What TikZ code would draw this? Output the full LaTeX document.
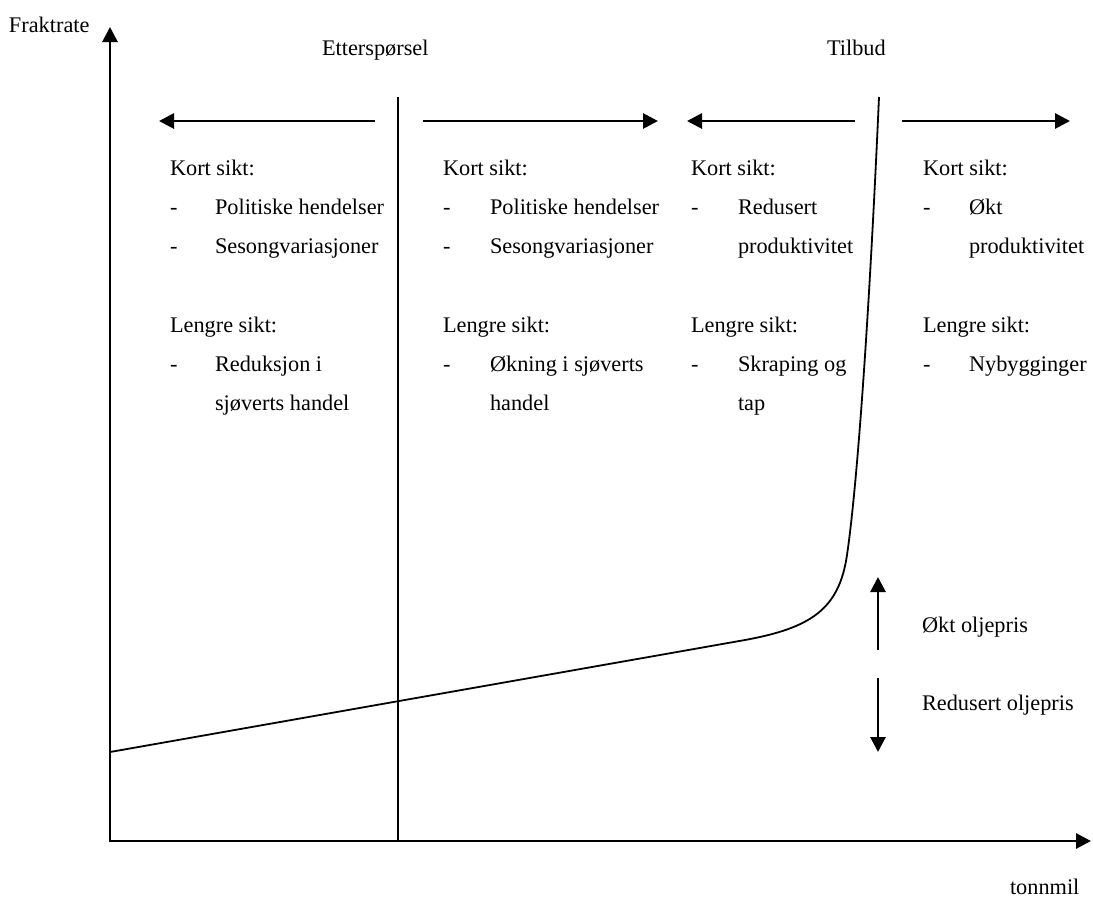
\documentclass[tikz,border=0pt]{standalone}
\usepackage{fontspec}
\setmainfont{Liberation Serif}
\usetikzlibrary{arrows.meta}
\begin{document}
\begin{tikzpicture}[x=1pt,y=-1pt,
  every node/.style={inner sep=0pt, outer sep=0pt, font=\fontsize{22.3}{26}\selectfont},
  lbl/.style={anchor=base west},
  tip/.style={-{Triangle[length=15pt,width=15pt]}},
  axisline/.style={line width=2.8pt, line join=miter, {Triangle[length=15pt,width=15pt]}-{Triangle[length=15pt,width=15pt]}},
  shiftarrow/.style={line width=2.8pt, tip},
  curveline/.style={line width=1.8pt}]
\useasboundingbox (0,0) rectangle (1093,898);

% axes
\coordinate (O) at (110,841);
\coordinate (ytop) at (110,27);
\coordinate (xend) at (1091,841);
\draw[axisline] (ytop) -- (O) -- (xend);
\node[lbl] (ylab) at (9,32) {Fraktrate};
\node[lbl] (xlab) at (1010,894) {tonnmil};

% demand (vertical) and supply curve
\coordinate (dtop) at (398,97);
\coordinate (dbot) at (398,841);
\draw[curveline] (dtop) -- (dbot);
\coordinate (s0) at (110,752);
\coordinate (s1) at (745,640);
\coordinate (s2) at (847,555);
\coordinate (s3) at (879,97);
\draw[curveline] (s0) -- (s1) .. controls (810,628) and (839,610) .. (s2)
  .. controls (858,480) and (870,300) .. (s3);

\node[lbl] (dem) at (322,55) {Etterspørsel};
\node[lbl] (sup) at (827,55) {Tilbud};

% shift arrows
\coordinate (a1s) at (375,121); \coordinate (a1e) at (159,121);
\coordinate (a2s) at (423,121); \coordinate (a2e) at (658,121);
\coordinate (a3s) at (855,121); \coordinate (a3e) at (687,121);
\coordinate (a4s) at (902,121); \coordinate (a4e) at (1070,121);
\draw[shiftarrow] (a1s) -- (a1e);
\draw[shiftarrow] (a2s) -- (a2e);
\draw[shiftarrow] (a3s) -- (a3e);
\draw[shiftarrow] (a4s) -- (a4e);

% column 1
\node[lbl] (c1h1) at (170,175) {Kort sikt:};
\node[lbl] (c1d1) at (170,214) {-};
\node[lbl] (c1t1) at (215,214) {Politiske hendelser};
\node[lbl] (c1d2) at (170,253) {-};
\node[lbl] (c1t2) at (215,253) {Sesongvariasjoner};
\node[lbl] (c1h2) at (170,332) {Lengre sikt:};
\node[lbl] (c1d3) at (170,371) {-};
\node[lbl] (c1t3) at (215,371) {Reduksjon i};
\node[lbl] (c1t4) at (215,410) {sjøverts handel};

% column 2
\node[lbl] (c2h1) at (443,175) {Kort sikt:};
\node[lbl] (c2d1) at (443,214) {-};
\node[lbl] (c2t1) at (490,214) {Politiske hendelser};
\node[lbl] (c2d2) at (443,253) {-};
\node[lbl] (c2t2) at (490,253) {Sesongvariasjoner};
\node[lbl] (c2h2) at (443,332) {Lengre sikt:};
\node[lbl] (c2d3) at (443,371) {-};
\node[lbl] (c2t3) at (490,371) {Økning i sjøverts};
\node[lbl] (c2t4) at (490,410) {handel};

% column 3
\node[lbl] (c3h1) at (691,175) {Kort sikt:};
\node[lbl] (c3d1) at (691,214) {-};
\node[lbl] (c3t1) at (738,214) {Redusert};
\node[lbl] (c3t2) at (738,253) {produktivitet};
\node[lbl] (c3h2) at (691,332) {Lengre sikt:};
\node[lbl] (c3d3) at (691,371) {-};
\node[lbl] (c3t3) at (738,371) {Skraping og};
\node[lbl] (c3t4) at (738,410) {tap};

% column 4
\node[lbl] (c4h1) at (923,175) {Kort sikt:};
\node[lbl] (c4d1) at (923,214) {-};
\node[lbl] (c4t1) at (969,214) {Økt};
\node[lbl] (c4t2) at (969,253) {produktivitet};
\node[lbl] (c4h2) at (923,332) {Lengre sikt:};
\node[lbl] (c4d3) at (923,371) {-};
\node[lbl] (c4t3) at (969,371) {Nybygginger};

% oil price arrows
\coordinate (o1s) at (878,650); \coordinate (o1e) at (878,577);
\coordinate (o2s) at (878,678); \coordinate (o2e) at (878,752);
\draw[shiftarrow] (o1s) -- (o1e);
\draw[shiftarrow] (o2s) -- (o2e);
\node[lbl] (oilup) at (922,632) {Økt oljepris};
\node[lbl] (oildn) at (922,710) {Redusert oljepris};
\end{tikzpicture}
\end{document}
